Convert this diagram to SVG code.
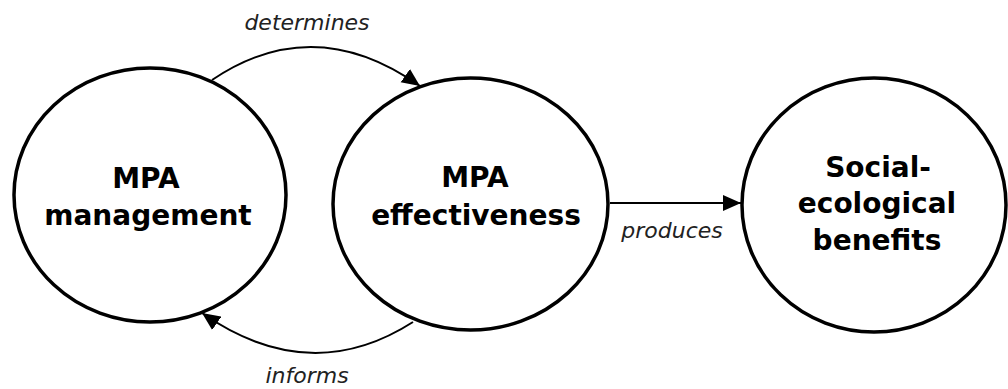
<svg xmlns="http://www.w3.org/2000/svg" width="1008" height="389" viewBox="0 0 1008 389">
  <style>
    .node { fill: #ffffff; stroke: #000000; stroke-width: 3.5; }
    .ntext { font-family: "DejaVu Sans", "Liberation Sans", sans-serif; font-weight: bold; font-size: 28px; fill: #000000; text-anchor: middle; }
    .conn { fill: none; stroke: #000000; stroke-width: 2; }
    .ltext { font-family: "DejaVu Sans", "Liberation Sans", sans-serif; font-style: italic; font-size: 22px; fill: #222222; text-anchor: middle; }
  </style>
  <defs>
    <marker id="arrow" viewBox="0 0 10 10" refX="10" refY="5" markerWidth="9" markerHeight="9" markerUnits="strokeWidth" orient="auto">
      <path d="M0,0.5 L10,5 L0,9.5 Z" fill="#000000"/>
    </marker>
  </defs>
  <rect width="1008" height="389" fill="#ffffff"/>
  <g id="node-management">
    <ellipse class="node" cx="150" cy="195" rx="136" ry="127"/>
    <text class="ntext" x="146" y="188">MPA</text>
    <text class="ntext" x="148" y="225">management</text>
  </g>
  <g id="node-effectiveness">
    <ellipse class="node" cx="470.5" cy="204" rx="137.5" ry="126"/>
    <text class="ntext" x="475" y="187">MPA</text>
    <text class="ntext" x="476" y="225">effectiveness</text>
  </g>
  <g id="node-benefits">
    <ellipse class="node" cx="874" cy="205" rx="132" ry="127"/>
    <text class="ntext" x="878" y="177">Social-</text>
    <text class="ntext" x="877" y="213">ecological</text>
    <text class="ntext" x="877" y="250">benefits</text>
  </g>
  <g id="connectors">
    <path class="conn" d="M212,80 Q314,11 420,86" marker-end="url(#arrow)"/>
    <path class="conn" d="M413,322 Q310,388 202,313" marker-end="url(#arrow)"/>
    <path class="conn" d="M610,203 L741,203" marker-end="url(#arrow)"/>
    <text class="ltext" x="307" y="30">determines</text>
    <text class="ltext" x="307" y="383">informs</text>
    <text class="ltext" x="672" y="238">produces</text>
  </g>
</svg>
